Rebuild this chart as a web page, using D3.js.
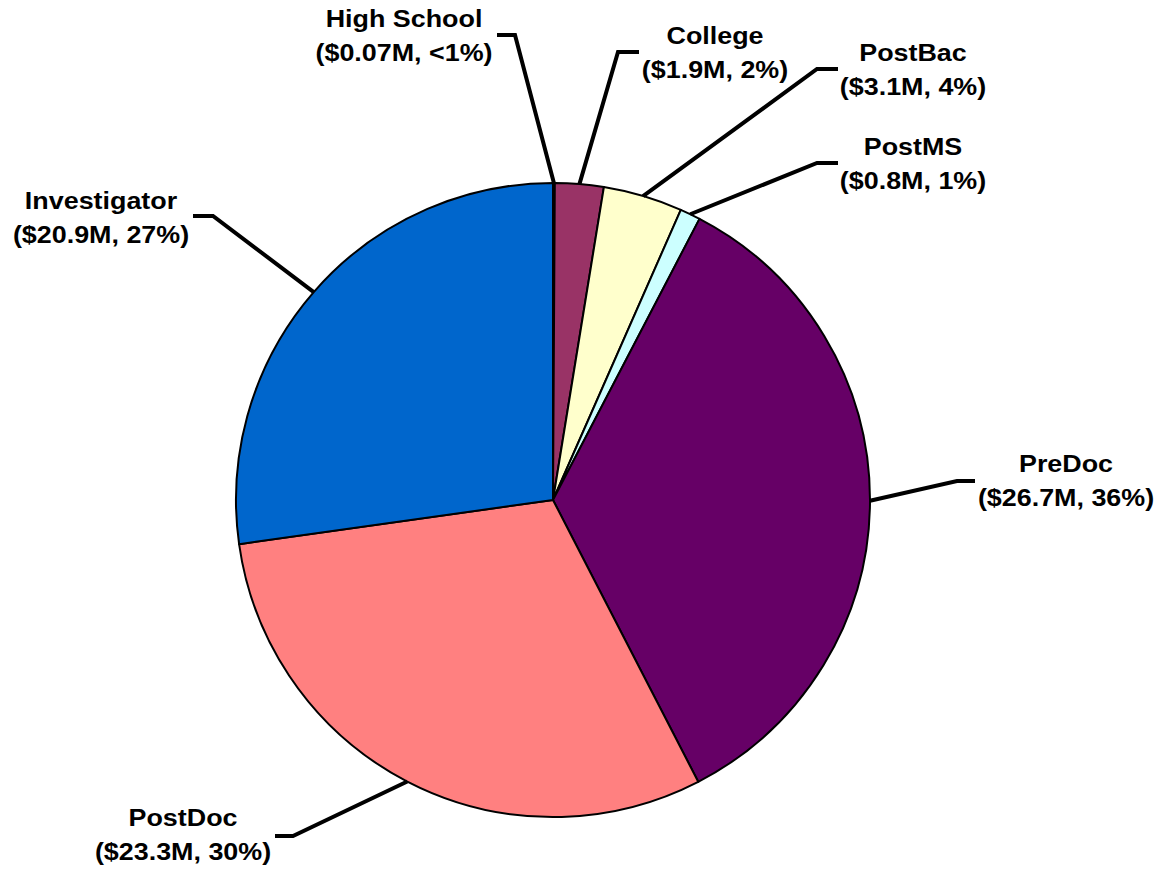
<!DOCTYPE html>
<html>
<head>
<meta charset="utf-8">
<script src="https://cdn.jsdelivr.net/npm/d3@7"></script>
<style>
  body { margin: 0; background: #fff; }
  svg text { font-family: "Liberation Sans", Arial, sans-serif; font-weight: bold; }
</style>
</head>
<body>
<script>
// slice data, clockwise from 12 o'clock
var categories = ["High School", "College", "PostBac", "PostMS", "PreDoc", "PostDoc", "Investigator"];
var amounts = [0.07, 1.9, 3.1, 0.8, 26.7, 23.3, 20.9];   // $M
var amountLabels = ["$0.07M", "$1.9M", "$3.1M", "$0.8M", "$26.7M", "$23.3M", "$20.9M"];
var pctLabels = ["<1%", "2%", "4%", "1%", "36%", "30%", "27%"];
var colors = ["#9999FF", "#993366", "#FFFFCC", "#CCFFFF", "#660066", "#FF8080", "#0066CC"];

var width = 1159;
var height = 870;
var cx = 553, cy = 500, radius = 317;
var lineGap = 34;

// hand placed label layout: elbow of the leader, end of the stub, text centre / baseline
var labelPos = {
  "High School":  { elbow: [515, 35],  end: [497, 35],  tx: 404,  ty: 27 },
  "College":      { elbow: [618, 52],  end: [639, 52],  tx: 715,  ty: 44 },
  "PostBac":      { elbow: [817, 69],  end: [838, 69],  tx: 913,  ty: 61 },
  "PostMS":       { elbow: [817, 163], end: [838, 163], tx: 913,  ty: 155 },
  "PreDoc":       { elbow: [957, 481], end: [975, 481], tx: 1066, ty: 472 },
  "PostDoc":      { elbow: [293, 836], end: [275, 836], tx: 183,  ty: 826 },
  "Investigator": { elbow: [213, 216], end: [193, 216], tx: 101,  ty: 209 }
};

var data = categories.map(function(c, i) {
  return { name: c, value: amounts[i], amt: amountLabels[i], pct: pctLabels[i], color: colors[i] };
});

var svg = d3.select("body")
  .append("svg")
  .attr("width", width)
  .attr("height", height);

var pie = d3.pie()
  .sort(null)
  .value(function(d) { return d.value; });

var arc = d3.arc()
  .innerRadius(0)
  .outerRadius(radius);

var arcs = pie(data);

var g = svg.append("g")
  .attr("transform", `translate(${cx},${cy})`);

g.selectAll("path.slice")
  .data(arcs)
  .enter()
  .append("path")
  .attr("class", "slice")
  .attr("d", arc)
  .attr("fill", function(d) { return d.data.color; })
  .attr("stroke", "black")
  .attr("stroke-width", 2)
  .attr("stroke-linejoin", "round");

// leader lines from the middle of each slice's outer edge
arcs.forEach(function(d) {
  var p = labelPos[d.data.name];
  var mid = (d.startAngle + d.endAngle) / 2;
  var sx = cx + radius * Math.sin(mid);
  var sy = cy - radius * Math.cos(mid);
  svg.append("polyline")
    .attr("points", [[sx, sy], p.elbow, p.end].map(function(q) { return q.join(","); }).join(" "))
    .attr("fill", "none")
    .attr("stroke", "black")
    .attr("stroke-width", 4)
    .attr("stroke-linejoin", "miter");

  // text is a bit wider in the original, so stretch it horizontally
  var t = svg.append("text")
    .attr("transform", `translate(${p.tx},${p.ty}) scale(1.12,1)`)
    .attr("text-anchor", "middle")
    .attr("font-size", "24px")
    .attr("fill", "black");
  t.append("tspan")
    .attr("x", 0)
    .attr("y", 0)
    .text(d.data.name);
  t.append("tspan")
    .attr("x", 0)
    .attr("y", lineGap)
    .text("(" + d.data.amt + ", " + d.data.pct + ")");
});
</script>
</body>
</html>
